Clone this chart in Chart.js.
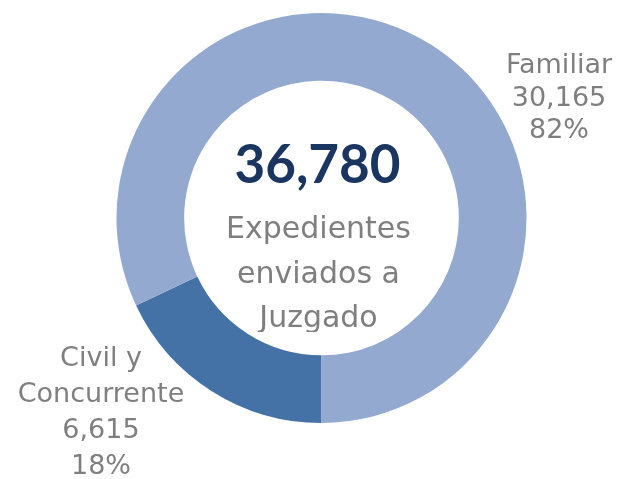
<!DOCTYPE html>
<html lang="es">
<head>
  <meta charset="UTF-8">
  <title>Expedientes enviados a Juzgado</title>
  <script src="https://cdn.jsdelivr.net/npm/chart.js"></script>
  <style>
    body {
      margin: 0;
      background: #fff;
    }
    #chartBox {
      width: 617px;
      height: 479px;
    }
  </style>
</head>
<body>
  <div id="chartBox">
    <canvas id="donut" width="617" height="479"></canvas>
  </div>

  <script>
  // datos
  const categories = ["Civil y Concurrente", "Familiar"];
  const values = [6615, 30165];
  const colors = ["#4472A7", "#94A9CF"];
  const valueLabels = ["6,615", "30,165"];
  const pctLabels = ["18%", "82%"];
  const totalLabel = "36,780";
  const centerLines = ["Expedientes", "enviados a", "Juzgado"];

  const grayText = "#7F7F7F";
  const labelFont = "27px 'DejaVu Sans', sans-serif";
  const centerFont = "30px 'DejaVu Sans', sans-serif";

  // textos del centro y etiquetas de las rebanadas
  const textPlugin = {
    id: "donutText",
    afterDraw(chart) {
      const ctx = chart.ctx;
      const arc = chart.getDatasetMeta(0).data[0];
      const cx = arc.x, cy = arc.y;
      ctx.save();
      ctx.textAlign = "center";
      ctx.textBaseline = "alphabetic";

      ctx.fillStyle = "#1A3660";
      ctx.font = "bold 53px Lato, sans-serif";
      ctx.fillText(totalLabel, cx - 4, cy - 35);

      // el ultimo renglon queda recortado como en el original
      ctx.save();
      ctx.beginPath();
      ctx.rect(0, 0, chart.width, cy + 114);
      ctx.clip();
      ctx.fillStyle = grayText;
      ctx.font = centerFont;
      centerLines.forEach((t, i) => {
        ctx.fillText(t, cx - 3, cy + 20 + i * 44.5);
      });
      ctx.restore();

      ctx.fillStyle = grayText;
      ctx.font = labelFont;
      const famLines = [categories[1], valueLabels[1], pctLabels[1]];
      famLines.forEach((t, i) => ctx.fillText(t, 559, 73 + i * 32.5));

      const civLines = ["Civil y", "Concurrente", valueLabels[0], pctLabels[0]];
      civLines.forEach((t, i) => ctx.fillText(t, 101, 366 + i * 36));
      ctx.restore();
    }
  };

  new Chart(document.getElementById("donut"), {
    type: "doughnut",
    data: {
      labels: categories,
      datasets: [{
        data: values,
        backgroundColor: colors,
        borderWidth: 0,
        hoverOffset: 0
      }]
    },
    options: {
      responsive: false,
      animation: false,
      rotation: 180,
      cutout: "67%",
      layout: {
        padding: { left: 116.5, right: 90.5, top: 13, bottom: 56 }
      },
      plugins: {
        legend: { display: false },
        tooltip: { enabled: false }
      }
    },
    plugins: [textPlugin]
  });
  </script>
</body>
</html>
